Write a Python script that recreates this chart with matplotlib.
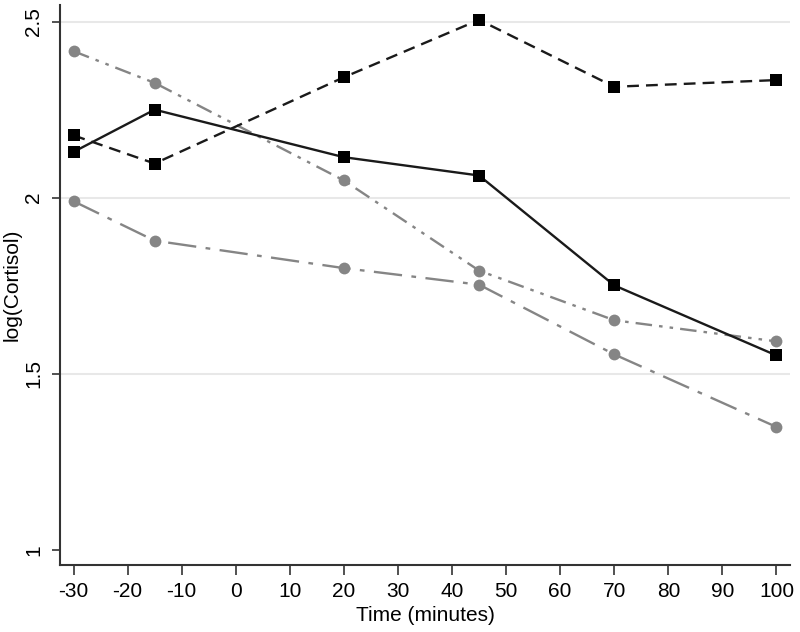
import matplotlib.pyplot as plt

plt.rcParams['font.family'] = ['Liberation Sans', 'DejaVu Sans']
plt.rcParams['axes.unicode_minus'] = False

time = [-30, -15, 20, 45, 70, 100]

# black squares, solid line
solid_sq = [2.13, 2.25, 2.115, 2.063, 1.751, 1.552]
# black squares, dashed line
dashed_sq = [2.177, 2.097, 2.342, 2.505, 2.315, 2.334]
# grey circles, dash-dot-dot
grey_dd = [2.416, 2.326, 2.049, 1.793, 1.652, 1.592]
# grey circles, long dash-dot
grey_ld = [1.99, 1.878, 1.80, 1.753, 1.555, 1.349]

xticks = list(range(-30, 101, 10))
yticks = [1, 1.5, 2, 2.5]
ytick_labels = ['1', '1.5', '2', '2.5']


def main():
    fig = plt.figure(figsize=(8, 6.32), dpi=100)
    ax = fig.add_axes([0.075, 0.106, 0.9125, 0.886])

    grey = '#858585'
    for y in yticks[1:]:
        ax.axhline(y, color='#e8e8e8', linewidth=1.5, zorder=0)

    ax.plot(time, grey_dd, color=grey, linewidth=1.7,
            linestyle=(0, (7, 3, 1.5, 3, 1.5, 3)),
            marker='o', markersize=8.5, markeredgewidth=0)
    ax.plot(time, grey_ld, color=grey, linewidth=1.7,
            linestyle=(0, (12, 4, 2, 4)),
            marker='o', markersize=8.5, markeredgewidth=0)
    ax.plot(time, dashed_sq, color='#1a1a1a', linewidth=1.7,
            linestyle=(0, (5, 3)),
            marker='s', markersize=8.5, markeredgewidth=0, markerfacecolor='black')
    ax.plot(time, solid_sq, color='#1a1a1a', linewidth=1.7, linestyle='-',
            marker='s', markersize=8.5, markeredgewidth=0, markerfacecolor='black')

    ax.set_xlim(-32.5, 102.5)
    ax.set_ylim(0.957, 2.547)
    ax.set_xticks(xticks)
    ax.set_yticks(yticks)
    ax.set_yticklabels(ytick_labels, rotation=90, va='center')

    for side in ['top', 'right']:
        ax.spines[side].set_visible(False)
    for side in ['left', 'bottom']:
        ax.spines[side].set_color('#333333')
        ax.spines[side].set_linewidth(1.5)

    ax.tick_params(axis='both', labelsize=15, color='#333333', width=1.2)
    ax.tick_params(axis='x', length=7, pad=5)
    ax.tick_params(axis='y', length=6, pad=6)

    ax.set_xlabel('Time (minutes)', fontsize=15, labelpad=4)
    ax.set_ylabel('log(Cortisol)', fontsize=15)
    ax.yaxis.set_label_coords(-0.052, 0.5)

    fig.savefig('out.png', dpi=100)


if __name__ == "__main__":
    main()
